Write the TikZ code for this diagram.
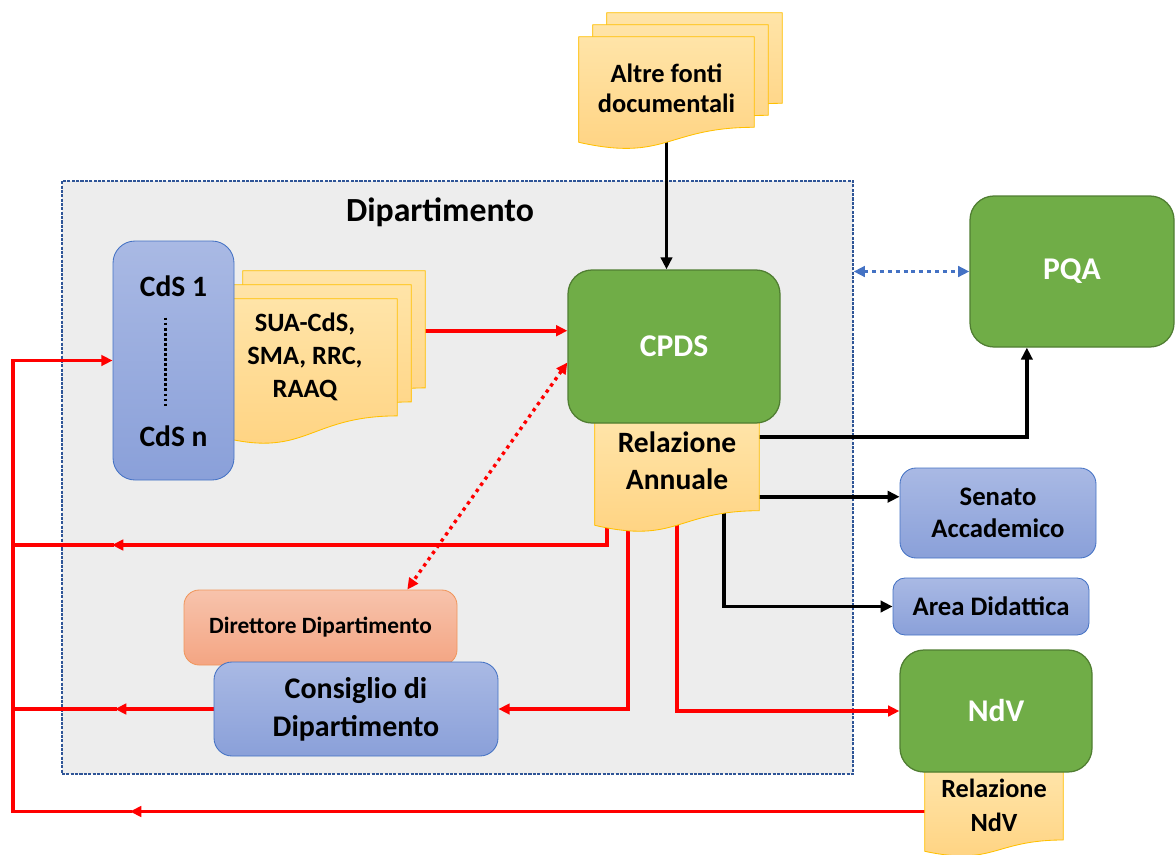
\documentclass[tikz,border=0pt]{standalone}
\usepackage{fontspec}
\setmainfont{Carlito}
\usepackage{tikz}
\usetikzlibrary{calc}
\usetikzlibrary{positioning}
\usetikzlibrary{arrows.meta}

\pgfdeclarelayer{shade}
\pgfdeclarelayer{wires}
\pgfdeclarelayer{paper}
\pgfsetlayers{shade,wires,paper,main}

\newcommand{\pix}{0.025cm}

\definecolor{boxtop}{HTML}{A9B9E4}
\definecolor{boxbot}{HTML}{8AA0D9}
\definecolor{boxedge}{HTML}{4472C4}
\definecolor{leaf}{HTML}{70AD47}
\definecolor{leafedge}{HTML}{507E32}
\definecolor{salmontop}{HTML}{F7C3AC}
\definecolor{salmonbot}{HTML}{F4A583}
\definecolor{salmonedge}{HTML}{F0965C}
\definecolor{papertop}{HTML}{FFE4A8}
\definecolor{paperbot}{HTML}{FFD27F}
\definecolor{paperedge}{HTML}{FFC000}
\definecolor{deptgrey}{HTML}{EDEDED}
\definecolor{deptedge}{HTML}{2F5597}
\definecolor{linkblue}{HTML}{4472C4}

\tikzset{
  plainbox/.style={draw, line width=0.6pt, inner sep=0pt, align=center},
  greenbox/.style={plainbox, fill=leaf, draw=leafedge, line width=0.9pt, text=white,
    rounded corners=0.6cm, font=\bfseries\fontsize{22.5}{27}\selectfont},
  bluebox/.style={plainbox, top color=boxtop, bottom color=boxbot, draw=boxedge},
  salmonbox/.style={plainbox, top color=salmontop, bottom color=salmonbot, draw=salmonedge},
  docnode/.style={inner sep=0pt},
  doctext/.style={align=center, font=\bfseries\fontsize{18.8}{21.5}\selectfont},
  docpaper/.style={top color=papertop, bottom color=paperbot, draw=paperedge, line width=0.6pt},
  wire/.style={line width=2.6pt, line cap=rect},
  blackarrow/.style={wire, -{Triangle[length=8.5pt,width=8pt]}},
  redline/.style={wire, red},
  redarrow/.style={redline, -{Triangle[length=8pt,width=7.5pt]}},
  reddots/.style={line width=2.4pt, red, dash pattern=on 2.4pt off 3pt,
    {Triangle[length=8pt,width=7.5pt]}-{Triangle[length=8pt,width=7.5pt]}},
  bluedots/.style={line width=2.4pt, linkblue, dash pattern=on 2.8pt off 2.8pt,
    {Triangle[length=8pt,width=7.5pt]}-{Triangle[length=8pt,width=7.5pt]}},
}

\newcommand{\docpage}[2][0,0]{%
  \begin{pgfonlayer}{paper}
    \coordinate (dtl) at ($(#2.north west)+(#1)$);
    \coordinate (dbr) at ($(#2.south east)+(#1)$);
    \coordinate (dtr) at (dtl -| dbr);
    \coordinate (dbl) at (dtl |- dbr);
    \coordinate (dtm) at ($(dtl)!0.5!(dtr)$);
    \coordinate (dbm) at ($(dbl)!0.5!(dbr)$);
    \path[docpaper] (dtl) -- (dtr) -- ($(dtr)!0.858!(dbr)$)
      .. controls ($(dtm)!0.858!(dbm)$) and ($(dtm)!1.188!(dbm)$) .. (dbl) -- cycle;
  \end{pgfonlayer}}

\begin{document}
\begin{tikzpicture}[x=\pix, y=-\pix]
			\useasboundingbox (0,0) rectangle (1175,854);

			\begin{pgfonlayer}{shade}
				\node[draw=deptedge, fill=deptgrey, line width=0.9pt, dash pattern=on 2.2pt off 0.9pt,
					minimum width=791*\pix, minimum height=593*\pix, inner sep=0pt] (2) at (457.5,477.5) {};
			\end{pgfonlayer}
			\node[font=\bfseries\fontsize{24}{28}\selectfont] (t2) at (440,212) {Dipartimento};

			\node[docnode, minimum width=175*\pix, minimum height=105*\pix] (1) at (666.5,89.5) {};
			\node[docnode, minimum width=182*\pix, minimum height=136*\pix] (4) at (306,367) {};
			\node[docnode, minimum width=164*\pix, minimum height=102*\pix] (6) at (677,474) {};
			\node[docnode, minimum width=138*\pix, minimum height=79*\pix] (11) at (994,811.5) {};

			\docpage[28,-24]{1}
			\docpage[14,-12]{1}
			\docpage{1}
			\docpage[28,-28]{4}
			\docpage[14,-14]{4}
			\docpage{4}
			\docpage{6}
			\docpage{11}

			\node[doctext] (t1) at ($(1)+(0,-1)$) {Altre fonti\\documentali};
			\node[doctext, font=\bfseries\fontsize{18.8}{23.5}\selectfont] (t4) at ($(4)+(-1,-10)$) {SUA-CdS,\\SMA, RRC,\\RAAQ};
			\node[doctext, font=\bfseries\fontsize{21}{26}\selectfont] (t6) at ($(6)+(0,-13)$) {Relazione\\Annuale};
			\node[doctext, font=\bfseries\fontsize{18.7}{24}\selectfont] (t11) at ($(11)+(0,-6)$) {Relazione\\NdV};

			\node[bluebox, rounded corners=0.55cm, minimum width=121*\pix, minimum height=239*\pix] (3) at (173.5,360.5) {};
			\node[font=\bfseries\fontsize{21}{25}\selectfont] (t3a) at ($(3.north)+(0,46)$) {CdS 1};
			\node[font=\bfseries\fontsize{21}{25}\selectfont] (t3b) at ($(3.south)+(0,-44)$) {CdS n};
			\draw[line width=2.2pt, dash pattern=on 2pt off 1.6pt] ($(3.north)+(-8,77)$) -- ($(3.north)+(-8,166)$);

			\node[greenbox, minimum width=212*\pix, minimum height=153*\pix] (5) at (674,346.5) {CPDS};
			\node[greenbox, minimum width=204*\pix, minimum height=151*\pix] (7) at (1072,271.5) {PQA};
			\node[bluebox, rounded corners=0.4cm, minimum width=196*\pix, minimum height=90*\pix,
				font=\bfseries\fontsize{19}{22.8}\selectfont] (8) at (998,513) {Senato\\Accademico};
			\node[bluebox, rounded corners=0.3cm, minimum width=196*\pix, minimum height=57*\pix,
				font=\bfseries\fontsize{19}{22.8}\selectfont] (9) at (991,606.5) {Area Didattica};
			\node[greenbox, minimum width=192*\pix, minimum height=122*\pix] (10) at (996,711) {NdV};
			\node[salmonbox, rounded corners=0.38cm, minimum width=273*\pix, minimum height=75*\pix,
				font=\bfseries\fontsize{16.6}{20}\selectfont] (12) at (320.5,627.5) {Direttore Dipartimento};
			\node[bluebox, rounded corners=0.45cm, minimum width=284*\pix, minimum height=94*\pix,
				font=\bfseries\fontsize{21.3}{27}\selectfont] (13) at (356,709) {Consiglio di\\Dipartimento};

			\begin{pgfonlayer}{wires}
				\coordinate (p0) at (13,0);
				\coordinate (p1) at ($(4.north east)+(29,32)$);
				\coordinate (p2) at ($(6)+(-70,0)$);
				\coordinate (p3) at (112,545);
				\coordinate (p4) at (115,0 |- 13.west);
				\coordinate (p5) at (130,0 |- 11.west);
				\coordinate (p6) at ($(7.south west)!0.28!(7.south east)$);
				\coordinate (p7) at ($(6.north)+(0,74)$);

				\draw[blackarrow] (1) -- (1 |- 5.north);
				\draw[redarrow] (p1) -- (p1 -| 5.west);

				\draw[blackarrow] ($(6.north)+(0,14)$) -| (p6);
				\draw[blackarrow] (p7) -- (p7 -| 8.west);
				\draw[blackarrow] ($(6)+(47,0)$) |- (9.west);

				\draw[redarrow] (p2) |- (p3);
				\draw[redline] (p3) -- (p3 -| p0);
				\draw[redarrow] ($(6)+(-49,0)$) |- (13.east);
				\draw[redarrow] (6) |- (10.west);
				\draw[redarrow] (13.west) -- (p4);
				\draw[redline] (p4) -- (p4 -| p0);
				\draw[redarrow] (11) -- (p5);
				\draw[redline] (p5) -- (p5 -| p0);
				\draw[redline] ($(13.south)+(-40,0)$) -- ($(13.south)+(-40,0)$ |- p5);
				\draw[redarrow] (p5 -| p0) |- (3.west);

				\draw[reddots] ($(5.west)+(0,16)$) -- ($(12.north west)!0.817!(12.north east)$);
				\draw[bluedots] (2.east |- 7.west) -- (7.west);
			\end{pgfonlayer}
        \end{tikzpicture}
\end{document}
